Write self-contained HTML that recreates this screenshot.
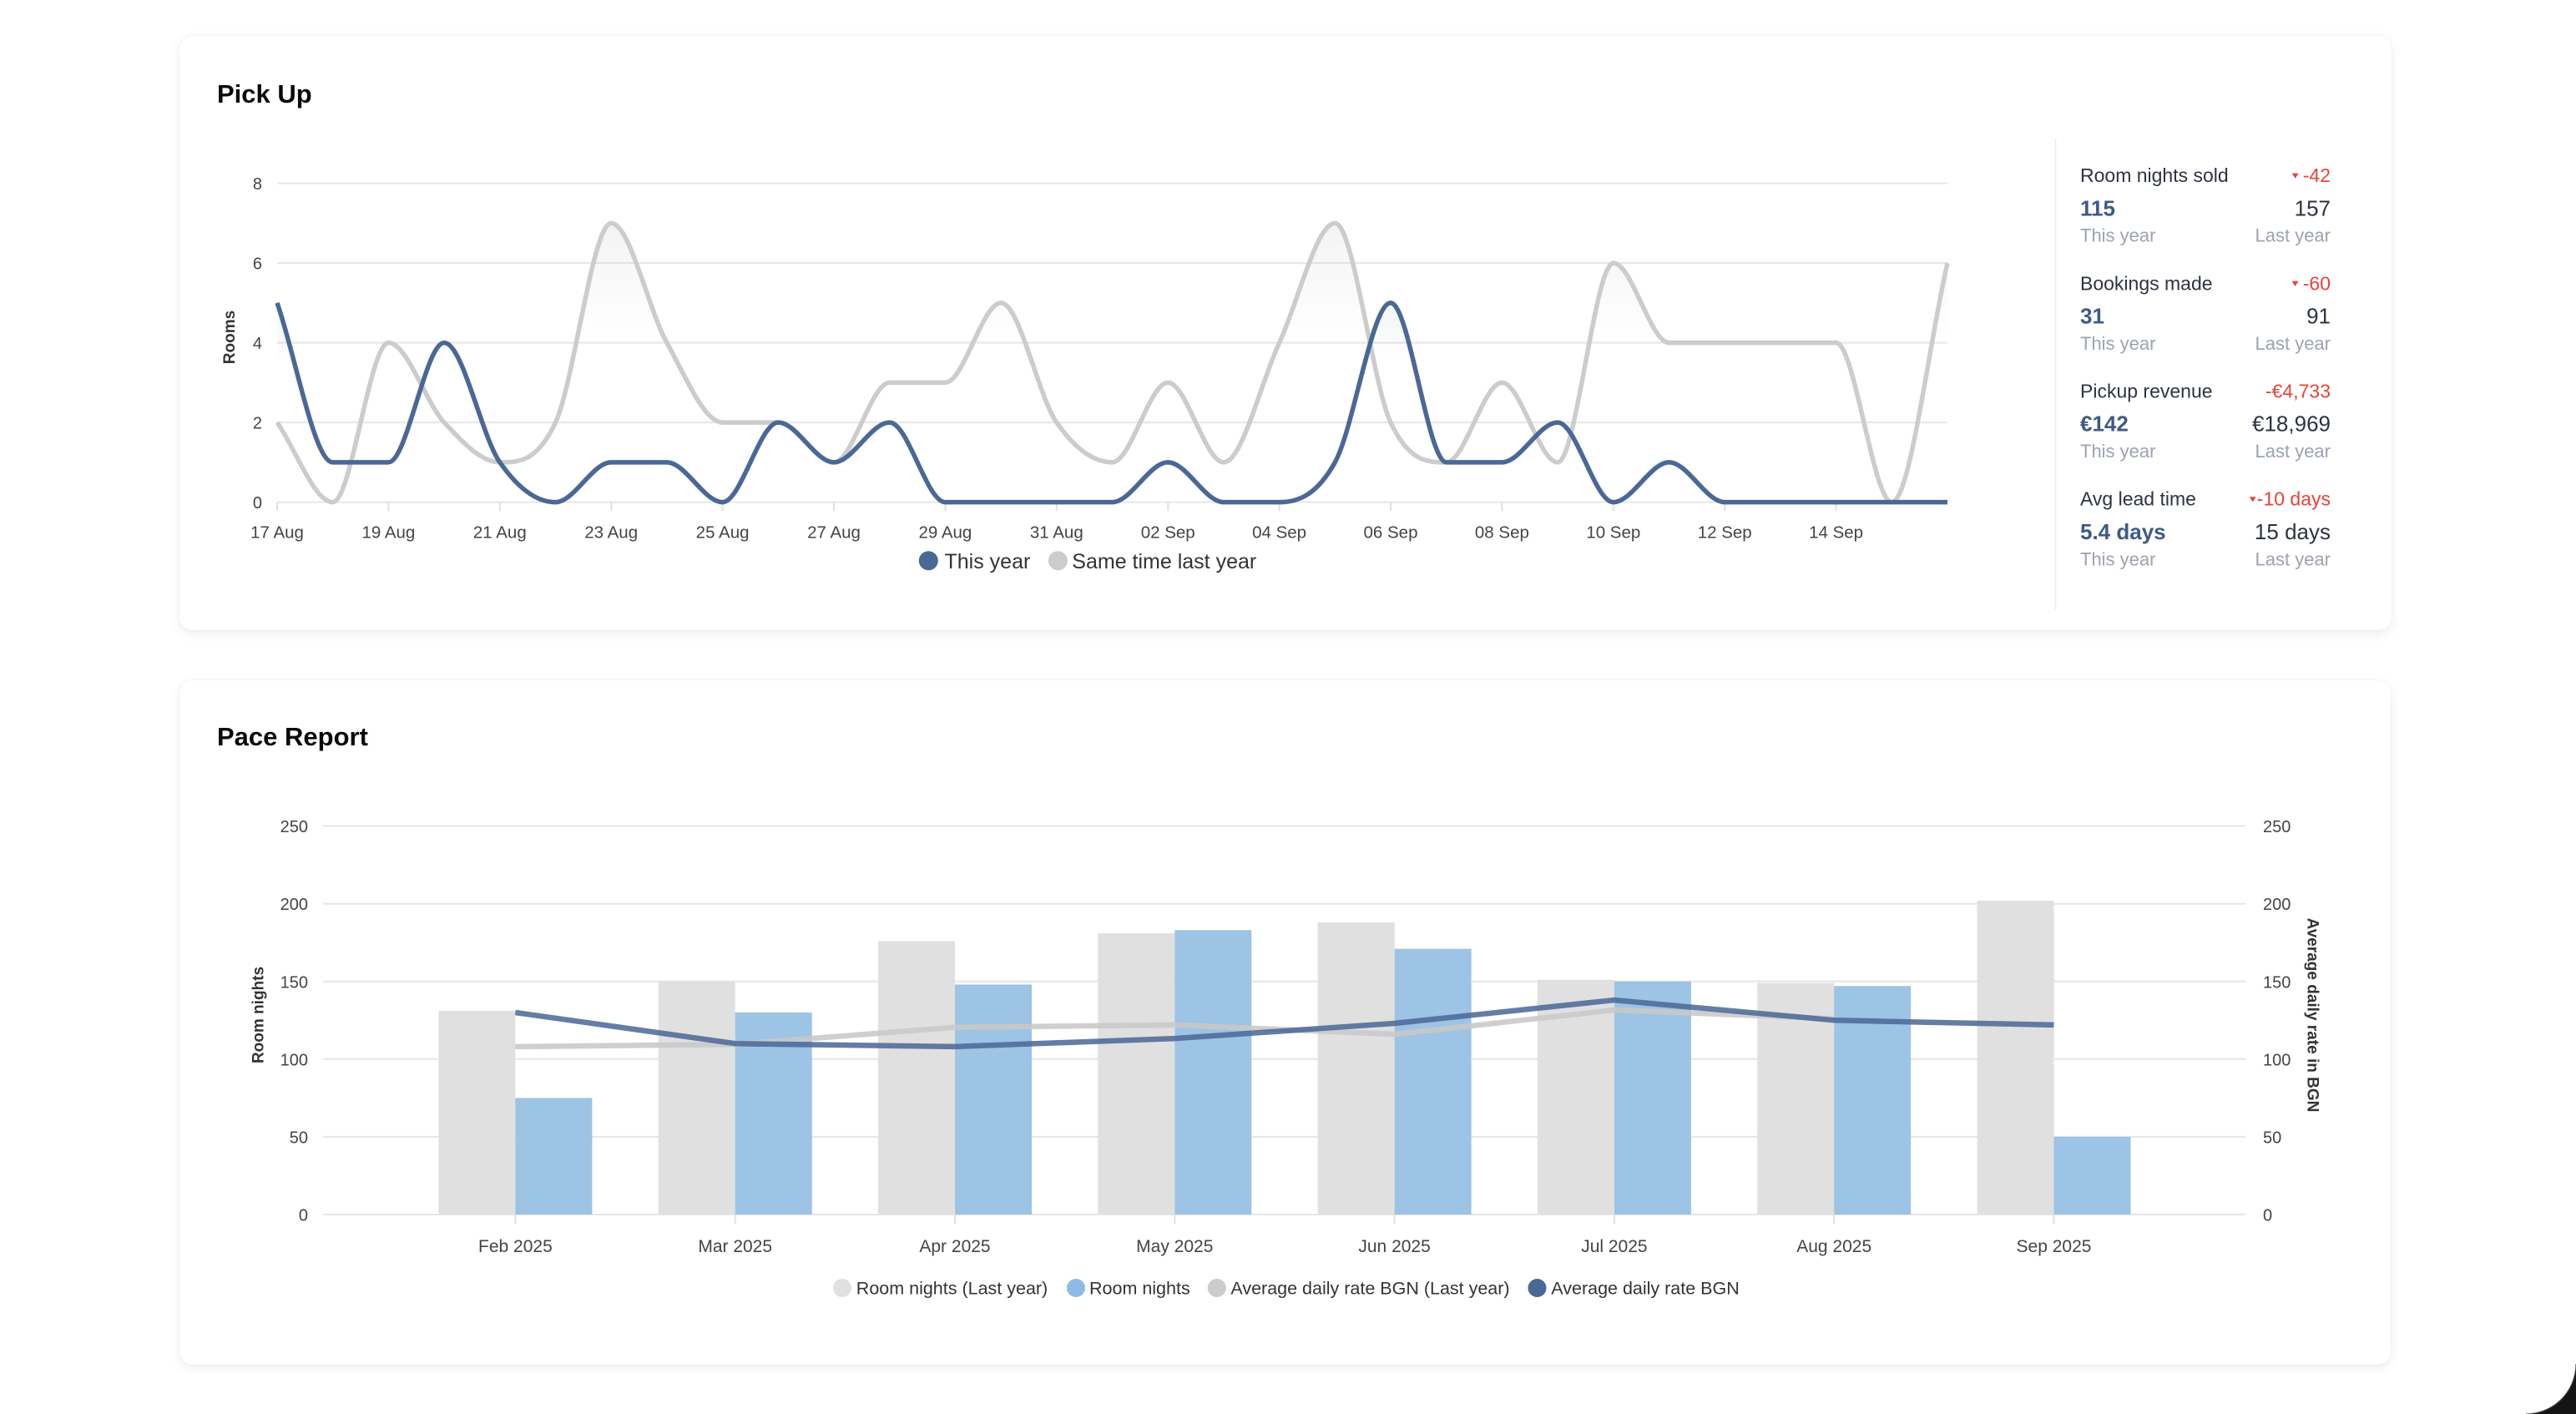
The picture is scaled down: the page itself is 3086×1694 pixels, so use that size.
<!DOCTYPE html>
<html>
<head>
<meta charset="utf-8">
<style>
  html,body{margin:0;padding:0;}
  body{width:3086px;height:1694px;position:relative;overflow:hidden;background:#fff;font-family:"Liberation Sans",Arial,sans-serif;}
  .card{position:absolute;background:#fff;border-radius:16px;box-shadow:0 4px 14px rgba(0,0,0,0.075),0 0 2px rgba(0,0,0,0.05);}
  svg{position:absolute;left:0;top:0;}
  .tick{font-size:20px;fill:#444;}
  .xl{font-size:20.5px;fill:#444;}
  .xl2{font-size:21px;fill:#444;}
  .axt{font-size:19px;font-weight:bold;fill:#333;}
  .title{font-size:31px;font-weight:bold;fill:#0a0a0a;}
  .lbl{font-size:23px;fill:#2d3340;}
  .dl{font-size:23px;fill:#e5443b;}
  .vb{font-size:26px;font-weight:bold;fill:#3d5a86;}
  .vr{font-size:26px;fill:#2d3340;}
  .sub{font-size:22px;fill:#9ca3af;}
  .lg{font-size:25px;fill:#333;}
  .lg2{font-size:21.5px;fill:#333;}
</style>
</head>
<body>
<div class="card" style="left:215px;top:43px;width:2650px;height:712px;"></div>
<div class="card" style="left:215px;top:815px;width:2649px;height:820px;"></div>

<svg width="3086" height="1694" viewBox="0 0 3086 1694">
  <defs>
    <linearGradient id="gfill" gradientUnits="userSpaceOnUse" x1="0" y1="8" x2="0" y2="4">
      <stop offset="0" stop-color="#c8c8c8" stop-opacity="0.28"/>
      <stop offset="1" stop-color="#c8c8c8" stop-opacity="0"/>
    </linearGradient>
    <linearGradient id="bfill" gradientUnits="userSpaceOnUse" x1="0" y1="8" x2="0" y2="3.5">
      <stop offset="0" stop-color="#4a6896" stop-opacity="0.22"/>
      <stop offset="1" stop-color="#4a6896" stop-opacity="0"/>
    </linearGradient>
  </defs>

  <!-- ============ PICK UP ============ -->
  <text class="title" x="260" y="123">Pick Up</text>

  <!-- grid -->
  <g stroke="#e6e6e6" stroke-width="2">
    <line x1="332" y1="219.6" x2="2333" y2="219.6"/>
    <line x1="332" y1="315.1" x2="2333" y2="315.1"/>
    <line x1="332" y1="410.6" x2="2333" y2="410.6"/>
    <line x1="332" y1="506.1" x2="2333" y2="506.1"/>
    <line x1="332" y1="601.6" x2="2333" y2="601.6"/>
  </g>
  <!-- x ticks -->
  <g stroke="#e0e0e0" stroke-width="2">
    <line x1="332" y1="601.6" x2="332" y2="612"/>
    <line x1="465.4" y1="601.6" x2="465.4" y2="612"/>
    <line x1="598.8" y1="601.6" x2="598.8" y2="612"/>
    <line x1="732.2" y1="601.6" x2="732.2" y2="612"/>
    <line x1="865.6" y1="601.6" x2="865.6" y2="612"/>
    <line x1="999" y1="601.6" x2="999" y2="612"/>
    <line x1="1132.4" y1="601.6" x2="1132.4" y2="612"/>
    <line x1="1265.8" y1="601.6" x2="1265.8" y2="612"/>
    <line x1="1399.2" y1="601.6" x2="1399.2" y2="612"/>
    <line x1="1532.6" y1="601.6" x2="1532.6" y2="612"/>
    <line x1="1666" y1="601.6" x2="1666" y2="612"/>
    <line x1="1799.4" y1="601.6" x2="1799.4" y2="612"/>
    <line x1="1932.8" y1="601.6" x2="1932.8" y2="612"/>
    <line x1="2066.2" y1="601.6" x2="2066.2" y2="612"/>
    <line x1="2199.6" y1="601.6" x2="2199.6" y2="612"/>
  </g>
  <!-- y labels -->
  <g class="tick" text-anchor="end">
    <text x="314" y="227.2">8</text>
    <text x="314" y="322.7">6</text>
    <text x="314" y="418.2">4</text>
    <text x="314" y="513.7">2</text>
    <text x="314" y="609.2">0</text>
  </g>
  <text class="axt" transform="translate(281 404) rotate(-90)" text-anchor="middle">Rooms</text>
  <!-- x labels -->
  <g class="xl" text-anchor="middle">
    <text x="332" y="644.5">17 Aug</text>
    <text x="465.4" y="644.5">19 Aug</text>
    <text x="598.8" y="644.5">21 Aug</text>
    <text x="732.2" y="644.5">23 Aug</text>
    <text x="865.6" y="644.5">25 Aug</text>
    <text x="999" y="644.5">27 Aug</text>
    <text x="1132.4" y="644.5">29 Aug</text>
    <text x="1265.8" y="644.5">31 Aug</text>
    <text x="1399.2" y="644.5">02 Sep</text>
    <text x="1532.6" y="644.5">04 Sep</text>
    <text x="1666" y="644.5">06 Sep</text>
    <text x="1799.4" y="644.5">08 Sep</text>
    <text x="1932.8" y="644.5">10 Sep</text>
    <text x="2066.2" y="644.5">12 Sep</text>
    <text x="2199.6" y="644.5">14 Sep</text>
  </g>

  <!-- series (data units) -->
  <g transform="translate(332 601.6) scale(66.7 -47.75)">
    <path fill="url(#gfill)" stroke="none" d="M0 2 C0.3333 1.3333 0.6667 0 1 0 S1.6667 4 2 4 S2.6667 2.5 3 2 S3.6667 1 4 1 S4.6667 1 5 2 S5.6667 7 6 7 S6.6667 4.8333 7 4 S7.6667 2 8 2 S8.6667 2 9 2 S9.6667 1 10 1 S10.6667 3 11 3 S11.6667 3 12 3 S12.6667 5 13 5 S13.6667 2.6667 14 2 S14.6667 1 15 1 S15.6667 3 16 3 S16.6667 1 17 1 S17.6667 3 18 4 S18.6667 7 19 7 S19.6667 3 20 2 S20.6667 1 21 1 S21.6667 3 22 3 S22.6667 1 23 1 S23.6667 6 24 6 S24.6667 4 25 4 S25.6667 4 26 4 S26.6667 4 27 4 S27.6667 4 28 4 S28.6667 0 29 0 S29.6667 4 30 6 L30 0 L0 0 Z"/>
    <path fill="url(#bfill)" stroke="none" d="M0 5 C0.3333 3.6667 0.6667 1 1 1 S1.6667 1 2 1 S2.6667 4 3 4 S3.6667 1.6667 4 1 S4.6667 0 5 0 S5.6667 1 6 1 S6.6667 1 7 1 S7.6667 0 8 0 S8.6667 2 9 2 S9.6667 1 10 1 S10.6667 2 11 2 S11.6667 0 12 0 S12.6667 0 13 0 S13.6667 0 14 0 S14.6667 0 15 0 S15.6667 1 16 1 S16.6667 0 17 0 S17.6667 0 18 0 S18.6667 0.1667 19 1 S19.6667 5 20 5 S20.6667 1 21 1 S21.6667 1 22 1 S22.6667 2 23 2 S23.6667 0 24 0 S24.6667 1 25 1 S25.6667 0 26 0 L30 0 L0 0 Z"/>
    <path fill="none" stroke="#cccccc" stroke-width="5.5" vector-effect="non-scaling-stroke" stroke-linejoin="round" d="M0 2 C0.3333 1.3333 0.6667 0 1 0 S1.6667 4 2 4 S2.6667 2.5 3 2 S3.6667 1 4 1 S4.6667 1 5 2 S5.6667 7 6 7 S6.6667 4.8333 7 4 S7.6667 2 8 2 S8.6667 2 9 2 S9.6667 1 10 1 S10.6667 3 11 3 S11.6667 3 12 3 S12.6667 5 13 5 S13.6667 2.6667 14 2 S14.6667 1 15 1 S15.6667 3 16 3 S16.6667 1 17 1 S17.6667 3 18 4 S18.6667 7 19 7 S19.6667 3 20 2 S20.6667 1 21 1 S21.6667 3 22 3 S22.6667 1 23 1 S23.6667 6 24 6 S24.6667 4 25 4 S25.6667 4 26 4 S26.6667 4 27 4 S27.6667 4 28 4 S28.6667 0 29 0 S29.6667 4 30 6"/>
    <path fill="none" stroke="#4a6896" stroke-width="5.5" vector-effect="non-scaling-stroke" stroke-linejoin="round" d="M0 5 C0.3333 3.6667 0.6667 1 1 1 S1.6667 1 2 1 S2.6667 4 3 4 S3.6667 1.6667 4 1 S4.6667 0 5 0 S5.6667 1 6 1 S6.6667 1 7 1 S7.6667 0 8 0 S8.6667 2 9 2 S9.6667 1 10 1 S10.6667 2 11 2 S11.6667 0 12 0 S12.6667 0 13 0 S13.6667 0 14 0 S14.6667 0 15 0 S15.6667 1 16 1 S16.6667 0 17 0 S17.6667 0 18 0 S18.6667 0.1667 19 1 S19.6667 5 20 5 S20.6667 1 21 1 S21.6667 1 22 1 S22.6667 2 23 2 S23.6667 0 24 0 S24.6667 1 25 1 S25.6667 0 26 0 S26.6667 0 27 0 S27.6667 0 28 0 S28.6667 0 29 0 S29.6667 0 30 0"/>
  </g>

  <!-- legend 1 -->
  <circle cx="1112.3" cy="671.7" r="11.5" fill="#4a6896"/>
  <text class="lg" x="1131.5" y="680.8">This year</text>
  <circle cx="1267.4" cy="671.7" r="11.5" fill="#cccccc"/>
  <text class="lg" x="1284.3" y="680.8">Same time last year</text>

  <!-- separator -->
  <line x1="2462.5" y1="166" x2="2462.5" y2="730" stroke="#ececec" stroke-width="1.5"/>

  <!-- stats -->
  <g>
    <text class="lbl" x="2492" y="218.1">Room nights sold</text>
    <polygon points="2745.8,207.6 2753.6,207.6 2749.7,213.8" fill="#e5443b"/>
    <text class="dl" x="2792" y="218.1" text-anchor="end">-42</text>
    <text class="vb" x="2492" y="258.3">115</text>
    <text class="vr" x="2792" y="258.3" text-anchor="end">157</text>
    <text class="sub" x="2492" y="289.7">This year</text>
    <text class="sub" x="2792" y="289.7" text-anchor="end">Last year</text>

    <text class="lbl" x="2492" y="347.3">Bookings made</text>
    <polygon points="2745.6,336.8 2753.4,336.8 2749.5,343" fill="#e5443b"/>
    <text class="dl" x="2792" y="347.3" text-anchor="end">-60</text>
    <text class="vb" x="2492" y="387.5">31</text>
    <text class="vr" x="2792" y="387.5" text-anchor="end">91</text>
    <text class="sub" x="2492" y="418.9">This year</text>
    <text class="sub" x="2792" y="418.9" text-anchor="end">Last year</text>

    <text class="lbl" x="2492" y="476.5">Pickup revenue</text>
    <text class="dl" x="2792" y="476.5" text-anchor="end">-€4,733</text>
    <text class="vb" x="2492" y="516.7">€142</text>
    <text class="vr" x="2792" y="516.7" text-anchor="end">€18,969</text>
    <text class="sub" x="2492" y="548.1">This year</text>
    <text class="sub" x="2792" y="548.1" text-anchor="end">Last year</text>

    <text class="lbl" x="2492" y="605.7">Avg lead time</text>
    <polygon points="2694.8,595.2 2702.6,595.2 2698.7,601.4" fill="#e5443b"/>
    <text class="dl" x="2792" y="605.7" text-anchor="end">-10 days</text>
    <text class="vb" x="2492" y="645.9">5.4 days</text>
    <text class="vr" x="2792" y="645.9" text-anchor="end">15 days</text>
    <text class="sub" x="2492" y="677.3">This year</text>
    <text class="sub" x="2792" y="677.3" text-anchor="end">Last year</text>
  </g>

  <!-- ============ PACE REPORT ============ -->
  <text class="title" x="260" y="893">Pace Report</text>

  <g stroke="#e6e6e6" stroke-width="2">
    <line x1="387" y1="989.6" x2="2690.5" y2="989.6"/>
    <line x1="387" y1="1082.7" x2="2690.5" y2="1082.7"/>
    <line x1="387" y1="1175.8" x2="2690.5" y2="1175.8"/>
    <line x1="387" y1="1268.8" x2="2690.5" y2="1268.8"/>
    <line x1="387" y1="1361.9" x2="2690.5" y2="1361.9"/>
    <line x1="387" y1="1455" x2="2690.5" y2="1455"/>
  </g>
  <g stroke="#e0e0e0" stroke-width="2">
    <line x1="617.4" y1="1455" x2="617.4" y2="1466"/>
    <line x1="880.7" y1="1455" x2="880.7" y2="1466"/>
    <line x1="1144" y1="1455" x2="1144" y2="1466"/>
    <line x1="1407.3" y1="1455" x2="1407.3" y2="1466"/>
    <line x1="1670.6" y1="1455" x2="1670.6" y2="1466"/>
    <line x1="1933.9" y1="1455" x2="1933.9" y2="1466"/>
    <line x1="2197.2" y1="1455" x2="2197.2" y2="1466"/>
    <line x1="2460.5" y1="1455" x2="2460.5" y2="1466"/>
  </g>

  <!-- bars last year -->
  <g fill="#e0e0e0">
    <rect x="525.4" y="1211.1" width="92" height="243.9"/>
    <rect x="788.7" y="1175.8" width="92" height="279.2"/>
    <rect x="1052" y="1127.4" width="92" height="327.6"/>
    <rect x="1315.3" y="1118.1" width="92" height="336.9"/>
    <rect x="1578.6" y="1105" width="92" height="350"/>
    <rect x="1841.9" y="1173.9" width="92" height="281.1"/>
    <rect x="2105.2" y="1177.6" width="92" height="277.4"/>
    <rect x="2368.5" y="1079" width="92" height="376"/>
  </g>
  <!-- bars this year -->
  <g fill="#9dc3e5">
    <rect x="617.4" y="1315.4" width="92" height="139.6"/>
    <rect x="880.7" y="1213" width="92" height="242"/>
    <rect x="1144" y="1179.5" width="92" height="275.5"/>
    <rect x="1407.3" y="1114.3" width="92" height="340.7"/>
    <rect x="1670.6" y="1136.7" width="92" height="318.3"/>
    <rect x="1933.9" y="1175.8" width="92" height="279.2"/>
    <rect x="2197.2" y="1181.3" width="92" height="273.7"/>
    <rect x="2460.5" y="1361.9" width="92" height="93.1"/>
  </g>

  <!-- ADR lines -->
  <polyline fill="none" stroke="rgba(200,200,200,0.88)" stroke-width="6.5" stroke-linejoin="round"
    points="617.4,1253.9 880.7,1251.2 1144,1230.7 1407.3,1227.9 1670.6,1239.1 1933.9,1210 2197.2,1220.4"/>
  <polyline fill="none" stroke="rgba(74,104,150,0.86)" stroke-width="6.5" stroke-linejoin="round"
    points="617.4,1213 880.7,1250.2 1144,1253.9 1407.3,1244.1 1670.6,1226 1933.9,1198.1 2197.2,1222.3 2460.5,1227.9"/>

  <!-- axis labels -->
  <g class="tick" text-anchor="end">
    <text x="369" y="997.1">250</text>
    <text x="369" y="1090.2">200</text>
    <text x="369" y="1183.3">150</text>
    <text x="369" y="1276.3">100</text>
    <text x="369" y="1369.4">50</text>
    <text x="369" y="1462.5">0</text>
  </g>
  <g class="tick">
    <text x="2711" y="997.1">250</text>
    <text x="2711" y="1090.2">200</text>
    <text x="2711" y="1183.3">150</text>
    <text x="2711" y="1276.3">100</text>
    <text x="2711" y="1369.4">50</text>
    <text x="2711" y="1462.5">0</text>
  </g>
  <text class="axt" transform="translate(315.5 1216) rotate(-90)" text-anchor="middle">Room nights</text>
  <text class="axt" transform="translate(2764.5 1216) rotate(90)" text-anchor="middle">Average daily rate in BGN</text>

  <g class="xl2" text-anchor="middle">
    <text x="617.4" y="1500">Feb 2025</text>
    <text x="880.7" y="1500">Mar 2025</text>
    <text x="1144" y="1500">Apr 2025</text>
    <text x="1407.3" y="1500">May 2025</text>
    <text x="1670.6" y="1500">Jun 2025</text>
    <text x="1933.9" y="1500">Jul 2025</text>
    <text x="2197.2" y="1500">Aug 2025</text>
    <text x="2460.5" y="1500">Sep 2025</text>
  </g>

  <!-- legend 2 -->
  <circle cx="1009" cy="1543" r="11" fill="#e0e0e0"/>
  <text class="lg2" x="1025.8" y="1550.7">Room nights (Last year)</text>
  <circle cx="1289" cy="1543" r="11" fill="#8ebbe3"/>
  <text class="lg2" x="1305" y="1550.7">Room nights</text>
  <circle cx="1457.7" cy="1543" r="11" fill="#cccccc"/>
  <text class="lg2" x="1474.4" y="1550.7">Average daily rate BGN (Last year)</text>
  <circle cx="1841.5" cy="1543" r="11" fill="#4a6896"/>
  <text class="lg2" x="1858.3" y="1550.7">Average daily rate BGN</text>
</svg>

<div style="position:absolute;right:0;bottom:0;width:60px;height:60px;background:radial-gradient(circle at 0 0,#ffffff 59px,#2a2a2a 60px,#141414 62px);"></div>
</body>
</html>
